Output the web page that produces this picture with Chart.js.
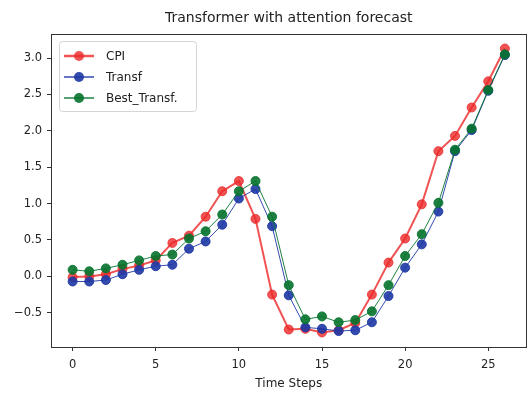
<!DOCTYPE html>
<html>
<head>
<meta charset="utf-8">
<script src="https://cdn.jsdelivr.net/npm/chart.js@4/dist/chart.umd.min.js"></script>
<style>
  html, body { margin: 0; padding: 0; background: #fff; }
  #wrap { width: 528px; height: 394px; }
</style>
</head>
<body>
<div id="wrap"><canvas id="chart" width="528" height="394"></canvas></div>
<script>
// time steps and series
const steps = [0,1,2,3,4,5,6,7,8,9,10,11,12,13,14,15,16,17,18,19,20,21,22,23,24,25,26];
const cpi = [-0.01, 0.0, 0.03, 0.1, 0.15, 0.22, 0.46, 0.56, 0.82, 1.17, 1.31, 0.79, -0.25, -0.73, -0.72, -0.77, -0.74, -0.64, -0.25, 0.19, 0.52, 0.99, 1.72, 1.93, 2.32, 2.68, 3.13];
const transf = [-0.07, -0.07, -0.05, 0.03, 0.09, 0.14, 0.16, 0.38, 0.48, 0.71, 1.07, 1.20, 0.69, -0.26, -0.70, -0.72, -0.75, -0.74, -0.63, -0.27, 0.12, 0.44, 0.89, 1.72, 2.01, 2.55, 3.04];
const bestTransf = [0.09, 0.07, 0.11, 0.16, 0.22, 0.28, 0.30, 0.52, 0.62, 0.85, 1.17, 1.31, 0.82, -0.12, -0.59, -0.55, -0.63, -0.60, -0.48, -0.12, 0.28, 0.58, 1.01, 1.74, 2.03, 2.56, 3.05];

const xTicks = [0, 5, 10, 15, 20, 25];
const yTicks = [-0.5, 0.0, 0.5, 1.0, 1.5, 2.0, 2.5, 3.0];

const seriesNames = ['CPI', 'Transf', 'Best_Transf.'];
const colors = ['rgba(235, 40, 40, 0.8)', 'rgba(30, 55, 165, 0.9)', 'rgba(5, 115, 45, 0.9)'];
const lineWidths = [2, 1, 1];

const font = 'DejaVu Sans';
const ink = '#222';

function pts(vals) {
    return steps.map((s, i) => ({ x: s, y: vals[i] }));
}

function fmt(v) {
    const s = v.toFixed(1);
    return v < 0 ? '\u2212' + s.slice(1) : s;
}

// frame, title and legend box like matplotlib
const decor = {
    id: 'decor',
    afterDraw(chart) {
        const ctx = chart.ctx;
        const a = chart.chartArea;
        ctx.save();
        ctx.strokeStyle = '#333';
        ctx.lineWidth = 1;
        ctx.strokeRect(Math.round(a.left) + 0.5, Math.round(a.top) + 0.5,
            Math.round(a.right - a.left) - 1, Math.round(a.bottom - a.top));

        ctx.fillStyle = ink;
        ctx.font = '14px "' + font + '"';
        ctx.textAlign = 'center';
        ctx.textBaseline = 'middle';
        ctx.fillText('Transformer with attention forecast', (a.left + a.right) / 2, 18);

        // legend
        const bx = a.left + 8, by = a.top + 7, bw = 137, bh = 70;
        ctx.fillStyle = 'rgba(255,255,255,0.8)';
        ctx.strokeStyle = '#d5d5d5';
        ctx.beginPath();
        ctx.roundRect(bx + 0.5, by + 0.5, bw, bh, 3);
        ctx.fill();
        ctx.stroke();
        ctx.font = '12px "' + font + '"';
        ctx.textAlign = 'left';
        seriesNames.forEach((name, i) => {
            const y = by + 15 + i * 21;
            ctx.strokeStyle = colors[i];
            ctx.lineWidth = lineWidths[i] + 0.5;
            ctx.beginPath();
            ctx.moveTo(bx + 5, y);
            ctx.lineTo(bx + 35, y);
            ctx.stroke();
            ctx.fillStyle = colors[i];
            ctx.beginPath();
            ctx.arc(bx + 20, y, 5, 0, Math.PI * 2);
            ctx.fill();
            ctx.fillStyle = ink;
            ctx.fillText(name, bx + 47, y + 1);
        });
        ctx.restore();
    }
};

const data = [cpi, transf, bestTransf];

new Chart(document.getElementById('chart').getContext('2d'), {
    type: 'line',
    data: {
        datasets: seriesNames.map((name, i) => ({
            label: name,
            data: pts(data[i]),
            borderColor: colors[i],
            backgroundColor: colors[i],
            borderWidth: lineWidths[i],
            pointRadius: 4.5,
            pointBorderWidth: 1,
            pointBorderColor: colors[i],
            pointBackgroundColor: colors[i],
            fill: false,
            tension: 0,
            order: 3 - i
        }))
    },
    options: {
        responsive: false,
        animation: false,
        layout: { autoPadding: false, padding: { top: 34, right: 1.5, left: 0, bottom: 0 } },
        plugins: {
            legend: { display: false },
            title: { display: false },
            tooltip: { enabled: false }
        },
        scales: {
            x: {
                type: 'linear',
                min: -1.3,
                max: 27.3,
                afterFit(s) { s.height = 47; s.paddingLeft = 0; s.paddingRight = 0; },
                afterBuildTicks(s) { s.ticks = xTicks.map(v => ({ value: v })); },
                grid: { display: true, drawOnChartArea: false, drawTicks: true, tickLength: 4, tickColor: '#333' },
                border: { display: true, color: '#333' },
                ticks: { color: ink, font: { family: font, size: 11.5 }, padding: 7, maxRotation: 0 },
                title: { display: true, text: 'Time Steps', color: ink, font: { family: font, size: 12 }, padding: { top: 2, bottom: 3 } }
            },
            y: {
                type: 'linear',
                min: -0.97,
                max: 3.33,
                afterFit(s) { s.width = 51; s.paddingTop = 0; s.paddingBottom = 0; },
                afterBuildTicks(s) { s.ticks = yTicks.map(v => ({ value: v })); },
                grid: { display: true, drawOnChartArea: false, drawTicks: true, tickLength: 4, tickColor: '#333' },
                border: { display: true, color: '#333' },
                ticks: { color: ink, font: { family: font, size: 11.5 }, padding: 5, callback: v => fmt(v) }
            }
        }
    },
    plugins: [decor]
});
</script>
</body>
</html>
